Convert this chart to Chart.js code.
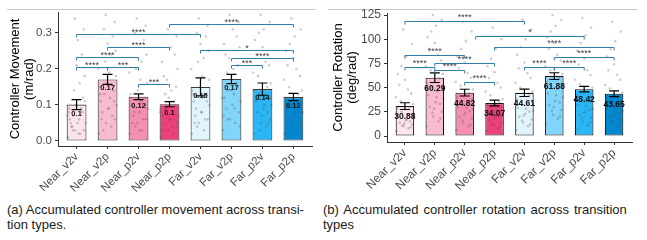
<!DOCTYPE html>
<html>
<head>
<meta charset="utf-8">
<script src="https://cdn.jsdelivr.net/npm/chart.js@4.4.0/dist/chart.umd.min.js"></script>
<style>
    body { margin: 0; background: #fff; width: 647px; height: 240px; overflow: hidden; position: relative; font-family: "Liberation Sans", Arial, sans-serif; }
    .rule { position: absolute; top: 9px; height: 1px; background: #c9c9c9; }
    .panel { position: absolute; top: 0; }
    .cap { position: absolute; top: 202px; font-size: 13px; line-height: 15px; color: #1a1a1a; white-space: nowrap; }
</style>
</head>
<body>
<div class="rule" style="left:7px;width:309px"></div>
<div class="rule" style="left:328px;width:309px"></div>
<canvas id="movChart" class="panel" style="left:0" width="320" height="196"></canvas>
<canvas id="rotChart" class="panel" style="left:320px" width="327" height="196"></canvas>
<div class="cap" style="left:7px">(a) Accumulated controller movement across transi-<br>tion types.</div>
<div class="cap" style="left:323px"><span style="word-spacing:1.5px">(b) Accumulated controller rotation across transition</span><br>types</div>

<script>
    "use strict";

    /* data */
    const categories = ['Near_v2v', 'Near_v2p', 'Near_p2v', 'Near_p2p', 'Far_v2v', 'Far_v2p', 'Far_p2v', 'Far_p2p'];

    const moveMean = [0.101, 0.171, 0.123, 0.102, 0.150, 0.172, 0.144, 0.122];
    const moveSE = [0.014, 0.014, 0.008, 0.007, 0.025, 0.013, 0.017, 0.010];
    const moveTicks = [0, 0.1, 0.2, 0.3];

    const rotMean = [30.88, 60.29, 44.82, 34.07, 44.61, 61.88, 48.42, 43.65];
    const rotSE = [3.5, 5.0, 3.5, 3.0, 3.8, 3.5, 2.8, 3.0];
    const rotTicks = [0, 25, 50, 75, 100, 125];

    // individual trials (approximate, the cloud behind each bar)
    const moveRaw = [
        [0.01, 0.02, 0.03, 0.03, 0.04, 0.05, 0.05, 0.06, 0.06, 0.07, 0.08, 0.08, 0.09, 0.1, 0.11, 0.04, 0.02, 0.07, 0.12, 0.14, 0.16, 0.05, 0.18, 0.21, 0.09, 0.24, 0.03, 0.28, 0.31, 0.34],
        [0.02, 0.04, 0.05, 0.06, 0.08, 0.09, 0.1, 0.11, 0.12, 0.13, 0.14, 0.15, 0.07, 0.16, 0.18, 0.03, 0.19, 0.2, 0.11, 0.22, 0.24, 0.06, 0.25, 0.27, 0.13, 0.29, 0.31, 0.09, 0.33, 0.35],
        [0.02, 0.03, 0.05, 0.06, 0.07, 0.08, 0.09, 0.1, 0.11, 0.04, 0.12, 0.13, 0.06, 0.14, 0.16, 0.08, 0.17, 0.19, 0.1, 0.2, 0.22, 0.05, 0.24, 0.26, 0.12, 0.28, 0.3, 0.03, 0.32, 0.34],
        [0.01, 0.02, 0.03, 0.04, 0.05, 0.06, 0.07, 0.07, 0.08, 0.09, 0.1, 0.03, 0.11, 0.12, 0.05, 0.13, 0.14, 0.08, 0.15, 0.17, 0.04, 0.18, 0.2, 0.06, 0.22, 0.24, 0.09, 0.26, 0.29, 0.31],
        [0.02, 0.03, 0.05, 0.06, 0.07, 0.08, 0.1, 0.11, 0.12, 0.04, 0.13, 0.14, 0.06, 0.15, 0.17, 0.09, 0.18, 0.2, 0.11, 0.22, 0.23, 0.05, 0.25, 0.27, 0.13, 0.29, 0.3, 0.08, 0.32, 0.34],
        [0.03, 0.05, 0.06, 0.08, 0.09, 0.1, 0.11, 0.12, 0.13, 0.14, 0.15, 0.07, 0.16, 0.17, 0.04, 0.19, 0.2, 0.12, 0.21, 0.23, 0.09, 0.24, 0.26, 0.14, 0.27, 0.29, 0.06, 0.31, 0.33, 0.35],
        [0.02, 0.04, 0.05, 0.06, 0.08, 0.09, 0.1, 0.11, 0.12, 0.13, 0.05, 0.14, 0.15, 0.07, 0.16, 0.18, 0.1, 0.19, 0.21, 0.03, 0.22, 0.24, 0.12, 0.26, 0.28, 0.08, 0.3, 0.31, 0.33, 0.35],
        [0.02, 0.03, 0.04, 0.05, 0.06, 0.07, 0.08, 0.09, 0.1, 0.11, 0.04, 0.12, 0.13, 0.06, 0.14, 0.15, 0.08, 0.17, 0.18, 0.1, 0.2, 0.21, 0.05, 0.23, 0.25, 0.11, 0.27, 0.29, 0.31, 0.34]
    ];
    const rotRaw = [
        [5, 8, 10, 12, 14, 16, 18, 20, 22, 25, 9, 28, 30, 13, 33, 36, 17, 40, 44, 11, 48, 53, 21, 58, 64, 15, 72, 82, 95, 110],
        [10, 15, 20, 25, 30, 35, 38, 42, 46, 50, 18, 55, 60, 28, 64, 68, 40, 72, 78, 24, 84, 90, 52, 96, 102, 33, 108, 114, 120, 125],
        [6, 10, 14, 18, 20, 24, 27, 30, 33, 36, 12, 40, 44, 22, 48, 52, 29, 56, 60, 16, 65, 70, 38, 76, 82, 26, 90, 98, 108, 118],
        [5, 8, 11, 14, 16, 19, 21, 24, 26, 29, 10, 32, 35, 18, 38, 42, 23, 46, 50, 13, 55, 60, 30, 66, 72, 20, 80, 90, 100, 112],
        [6, 10, 14, 17, 20, 23, 26, 29, 32, 35, 12, 38, 42, 21, 46, 50, 28, 55, 60, 16, 65, 70, 36, 76, 84, 25, 92, 100, 110, 120],
        [12, 18, 22, 27, 32, 36, 40, 44, 48, 52, 20, 56, 60, 30, 64, 68, 42, 72, 78, 26, 84, 90, 50, 96, 102, 35, 108, 114, 120, 125],
        [7, 11, 15, 19, 22, 25, 28, 32, 35, 38, 14, 42, 46, 24, 50, 54, 31, 58, 63, 18, 68, 74, 40, 80, 88, 27, 96, 104, 112, 122],
        [6, 10, 14, 17, 20, 23, 26, 29, 32, 35, 12, 38, 42, 21, 45, 49, 27, 53, 58, 15, 63, 68, 36, 74, 82, 24, 90, 98, 108, 118]
    ];
    // horizontal spread of the trials, in category units
    const jitter = [-0.28, 0.12, -0.05, 0.24, -0.17, 0.03, 0.29, -0.22, 0.08, -0.11, 0.19, -0.26, 0.15, -0.02, 0.27,
        -0.14, 0.06, -0.3, 0.21, -0.08, 0.1, -0.19, 0.26, 0.0, -0.24, 0.17, -0.12, 0.04, 0.23, -0.06];

    // significance brackets: [from, to, value, stars]
    const moveSig = [
        [3, 7, 0.325, '****'], [0, 4, 0.297, '****'], [1, 3, 0.262, '****'], [4, 7, 0.253, '*'],
        [0, 2, 0.234, '****'], [5, 7, 0.231, '****'], [5, 6, 0.211, '***'],
        [0, 1, 0.206, '****'], [1, 2, 0.206, '***'], [2, 3, 0.158, '***']
    ];
    const rotSig = [
        [0, 4, 119.1, '****'], [2.37, 6, 103.3, '*'], [3, 7, 92.3, '****'], [0, 2, 83.7, '****'],
        [5, 7, 81.9, '****'], [1, 3, 75.4, '****'], [0, 1, 71.6, '****'], [4, 5, 71.3, '****'],
        [5, 6, 71.3, '****'], [1, 2, 67.7, '****'], [2, 3, 56.1, '****']
    ];

    const barColors = ['#fce4ec', '#f8bbd0', '#f48fb1', '#ec407a', '#e1f5fe', '#81d4fa', '#29b6f6', '#0288d1'];
    const FONT = '"Liberation Sans", Arial, sans-serif';

    /* error bars, value labels and brackets */
    const extrasPlugin = {
        id: 'extras',
        afterDatasetsDraw(chart, args, opts) {
            const { ctx, scales: { x, y } } = chart;
            ctx.save();

            // error bars
            ctx.strokeStyle = '#000';
            ctx.lineWidth = 1.2;
            opts.mean.forEach((m, i) => {
                const xp = x.getPixelForValue(i);
                const y1 = y.getPixelForValue(m + opts.se[i]);
                const y2 = y.getPixelForValue(m - opts.se[i]);
                ctx.beginPath();
                ctx.moveTo(xp, y1); ctx.lineTo(xp, y2);
                ctx.moveTo(xp - opts.cap, y1); ctx.lineTo(xp + opts.cap, y1);
                ctx.moveTo(xp - opts.cap, y2); ctx.lineTo(xp + opts.cap, y2);
                ctx.stroke();
            });

            // values inside the bars
            ctx.fillStyle = '#111';
            ctx.font = 'bold ' + opts.labelSize + 'px ' + FONT;
            ctx.textAlign = 'center';
            ctx.textBaseline = 'middle';
            opts.mean.forEach((m, i) => {
                const txt = String(Number(m.toFixed(2)));
                ctx.fillText(txt, x.getPixelForValue(i), y.getPixelForValue(m) + opts.labelOffset);
            });

            // significance brackets
            ctx.strokeStyle = '#2f7ea6';
            ctx.lineWidth = 1;
            ctx.font = '9px ' + FONT;
            ctx.fillStyle = '#444';
            ctx.textBaseline = 'alphabetic';
            opts.sig.forEach(([a, b, v, stars]) => {
                const x1 = x.getPixelForValue(a);
                const x2 = x.getPixelForValue(b);
                const yp = Math.round(y.getPixelForValue(v)) + 0.5;
                ctx.beginPath();
                ctx.moveTo(x1, yp + 3); ctx.lineTo(x1, yp); ctx.lineTo(x2, yp); ctx.lineTo(x2, yp + 3);
                ctx.stroke();
                ctx.fillText(stars, (x1 + x2) / 2, yp + opts.starShift);
            });
            ctx.restore();
        }
    };

    function makeChart(id, mean, se, raw, ticks, yMin, yMax, title, extra) {
        let ctx = document.getElementById(id).getContext('2d');
        let points = [];
        raw.forEach((vals, i) => vals.forEach((v, k) => points.push({ x: i + jitter[k], y: v })));

        return new Chart(ctx, {
            type: 'bar',
            plugins: [extrasPlugin],
            data: {
                datasets: [
                    {
                        type: 'scatter',
                        order: 0,
                        data: points,
                        pointRadius: 1.3,
                        pointBorderWidth: 0,
                        pointBackgroundColor: 'rgba(80, 80, 80, 0.28)'
                    },
                    {
                        type: 'bar',
                        order: 1,
                        data: mean.map((v, i) => ({ x: i, y: v })),
                        backgroundColor: barColors,
                        borderColor: extra.barBorder,
                        borderWidth: 1.1,
                        borderSkipped: false,
                        categoryPercentage: 1,
                        barPercentage: extra.barPct
                    }
                ]
            },
            options: {
                responsive: false,
                animation: false,
                layout: { padding: { top: extra.top, right: extra.right, left: 0, bottom: 0 } },
                plugins: {
                    legend: { display: false },
                    tooltip: { enabled: false },
                    extras: { mean: mean, se: se, sig: extra.sig, cap: 5, labelSize: extra.labelSize, labelOffset: extra.labelOffset, starShift: extra.starShift }
                },
                scales: {
                    x: {
                        type: 'linear',
                        min: -0.6,
                        max: 7.6,
                        offset: false,
                        grid: { drawOnChartArea: false, offset: false, tickLength: 3, color: '#333' },
                        border: { color: '#333', width: 1 },
                        afterBuildTicks: (s) => { s.ticks = categories.map((c, i) => ({ value: i })); },
                        afterFit: (s) => { s.height = extra.xHeight; },
                        ticks: {
                            autoSkip: false,
                            minRotation: 45,
                            maxRotation: 45,
                            padding: 1,
                            color: '#4d4d4d',
                            font: { family: FONT, size: extra.tickSize },
                            callback: (v) => categories[v]
                        }
                    },
                    y: {
                        min: yMin,
                        max: yMax,
                        grid: { drawOnChartArea: false, tickLength: 3, color: '#333' },
                        border: { color: '#333', width: 1 },
                        afterBuildTicks: (s) => { s.ticks = ticks.map((v) => ({ value: v })); },
                        afterFit: (s) => { s.width = extra.yWidth; },
                        ticks: {
                            padding: 3,
                            color: '#4d4d4d',
                            font: { family: FONT, size: extra.tickSize },
                            callback: extra.tickFmt
                        },
                        title: {
                            display: true,
                            text: title,
                            color: '#000',
                            font: { family: FONT, size: 13, lineHeight: 1.1 },
                            padding: { top: extra.titlePad, bottom: 0 }
                        }
                    }
                }
            }
        });
    }

    makeChart('movChart', moveMean, moveSE, moveRaw, moveTicks, -0.0139, 0.358,
        ['Controller Movement', '(m/rad)'], {
            sig: moveSig, top: 12, right: 8, xHeight: 50, yWidth: 58, titlePad: 8, tickSize: 11.5,
            barPct: 0.64, barBorder: '#3a3a3a', labelSize: 7.5, labelOffset: 9, starShift: 0,
            tickFmt: (v) => v.toFixed(1)
        });

    makeChart('rotChart', rotMean, rotSE, rotRaw, rotTicks, -6.2, 127.1,
        ['Controller Rotation', '(deg/rad)'], {
            sig: rotSig, top: 13, right: 15, xHeight: 54, yWidth: 67, titlePad: 11, tickSize: 12,
            barPct: 0.62, barBorder: '#111', labelSize: 8.5, labelOffset: 11, starShift: -2,
            tickFmt: (v) => String(v)
        });
</script>
</body>
</html>
